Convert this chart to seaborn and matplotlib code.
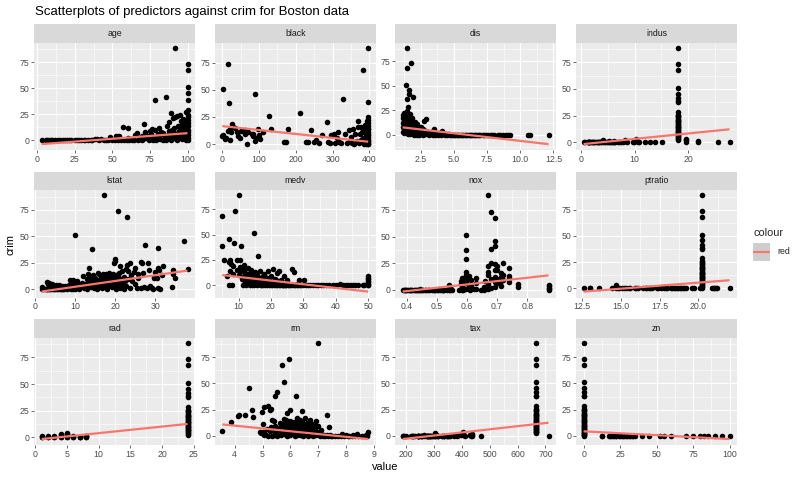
import numpy as np
import pandas as pd
import matplotlib
matplotlib.use("Agg")
import matplotlib.pyplot as plt
from matplotlib.ticker import AutoMinorLocator
import seaborn as sns

# ─── Data ─────────────────────────────────────────────────────────────────────
predictors = ["age", "black", "dis", "indus", "lstat", "medv",
              "nox", "ptratio", "rad", "rm", "tax", "zn"]

# fitted crim ~ value lines (intercept, slope)
intercepts = [-3.778, 16.554, 9.499, -2.064, -3.331, 11.797,
              -13.720, -17.647, -2.287, 20.482, -8.528, 4.454]
slopes = [0.1078, -0.03628, -1.5509, 0.5098, 0.5488, -0.3632,
          31.249, 1.1520, 0.6179, -2.684, 0.02974, -0.07393]

x_ticks = {
    "age": [0, 25, 50, 75, 100], "black": [0, 100, 200, 300, 400],
    "dis": [2.5, 5.0, 7.5, 10.0, 12.5], "indus": [0, 10, 20],
    "lstat": [0, 10, 20, 30], "medv": [10, 20, 30, 40, 50],
    "nox": [0.4, 0.5, 0.6, 0.7, 0.8], "ptratio": [12.5, 15.0, 17.5, 20.0],
    "rad": [0, 5, 10, 15, 20, 25], "rm": [4, 5, 6, 7, 8, 9],
    "tax": [200, 300, 400, 500, 600, 700], "zn": [0, 25, 50, 75, 100],
}
y_ticks = [0, 25, 50, 75]

# crim values of the high-crime towns (the vertical stacks)
high_crim = [2.38, 3.32, 4.22, 4.87, 5.69, 6.44, 7.02, 7.99, 8.72, 9.39, 9.92,
             10.83, 11.58, 12.05, 13.36, 14.05, 14.33, 15.02, 15.86, 16.81,
             18.08, 18.81, 19.61, 20.08, 20.72, 22.05, 23.65, 24.39, 25.05,
             25.94, 28.66, 37.66, 38.35, 41.53, 45.75, 51.14, 67.92, 73.53, 88.98]

age_pts = [(2.9, 0.0), (6.0, 0.0), (6.5, 0.1), (7.8, 0.0), (8.9, 0.1), (10.0, 0.0),
           (12.0, 0.1), (13.9, 0.0), (15.3, 0.1), (17.0, 0.0), (18.4, 0.1), (19.5, 0.0),
           (21.1, 0.1), (22.3, 0.0), (24.8, 0.1), (26.3, 0.0), (27.6, 0.2), (29.3, 0.1),
           (30.8, 0.0), (32.0, 0.2), (33.5, 0.1), (35.7, 0.1), (36.6, 0.3), (38.3, 1.6),
           (40.0, 1.5), (41.1, 0.2), (42.4, 1.3), (44.4, 0.2), (45.6, 0.1), (47.2, 0.4),
           (48.5, 3.1), (49.9, 0.3), (51.8, 0.2), (52.5, 3.8), (53.6, 0.5), (54.3, 4.2),
           (56.0, 0.4), (57.1, 12.8), (57.8, 0.6), (59.5, 0.3), (60.1, 11.8), (61.1, 0.6),
           (62.8, 1.1), (64.5, 0.5), (65.2, 5.2), (66.6, 6.8), (66.8, 0.8), (68.2, 1.2),
           (69.5, 3.9), (70.0, 0.4), (71.0, 15.9), (71.5, 8.0), (72.7, 2.2), (74.4, 0.7),
           (74.8, 9.1), (76.0, 1.1), (76.5, 11.2), (77.7, 3.2), (78.1, 38.4), (78.7, 9.9),
           (79.2, 0.5), (80.3, 6.4), (81.0, 12.0), (81.6, 1.8), (82.6, 8.2), (83.7, 0.4),
           (84.7, 4.3), (85.4, 41.5), (86.1, 13.5), (87.3, 2.4), (87.9, 18.1), (88.0, 9.5),
           (88.8, 0.9), (89.1, 25.9), (89.6, 5.7), (90.3, 21.1), (90.8, 2.0), (91.2, 12.2),
           (91.5, 22.6), (91.9, 88.98), (92.6, 6.4), (93.0, 23.6), (93.3, 0.6), (93.8, 14.3),
           (94.1, 9.3), (94.7, 24.8), (95.4, 3.3), (96.0, 18.5), (96.2, 1.2), (96.8, 20.1),
           (97.3, 7.9), (97.9, 15.0), (98.2, 4.4), (98.8, 11.0), (99.1, 0.9), (99.3, 27.0),
           (99.6, 13.4), (100.0, 0.1), (100.0, 2.4), (100.0, 5.0), (100.0, 8.0),
           (100.0, 10.5), (100.0, 14.0), (100.0, 17.0), (100.0, 20.0), (100.0, 22.0),
           (100.0, 24.0), (100.0, 29.0), (100.0, 38.4), (100.0, 45.7), (100.0, 51.1),
           (100.0, 67.9), (100.0, 73.5),
           (60.5, 2.5), (63.0, 0.2), (67.5, 2.8), (70.5, 1.6), (73.0, 4.6), (75.5, 5.9),
           (77.0, 0.3), (79.8, 2.9), (82.0, 4.8), (84.0, 7.1), (85.9, 0.6), (86.8, 5.4),
           (88.4, 3.6), (89.9, 9.8), (90.9, 7.3), (92.2, 3.9), (94.3, 5.5), (95.0, 11.8),
           (95.8, 7.0), (96.5, 14.7), (97.0, 2.4), (97.6, 10.4), (98.5, 7.7), (99.0, 18.1),
           (99.4, 3.6), (99.8, 6.4)]

black_pts = [(0.32, 7.0), (2.5, 51.1), (3.5, 8.5), (6.7, 6.0), (7.7, 5.0), (10.5, 5.5),
             (14.5, 73.5), (16.5, 12.0), (18.8, 37.7), (20.0, 3.6), (22.0, 14.3),
             (24.7, 11.0), (27.5, 18.5), (30.0, 16.0), (35.0, 15.0), (41.0, 11.2),
             (43.0, 7.5), (48.0, 5.2), (50.9, 12.0), (60.7, 9.7), (62.0, 13.0), (68.0, 0.4),
             (70.8, 11.5), (80.0, 9.7), (83.5, 7.0), (85.0, 8.8), (88.3, 45.7), (89.0, 2.7),
             (91.0, 5.8), (97.9, 14.3), (100.2, 8.2), (103.0, 5.0), (109.9, 11.2),
             (126.8, 25.9), (131.4, 14.3), (169.3, 2.1), (172.9, 2.1), (178.6, 14.3),
             (210.9, 28.6), (227.6, 1.5), (232.6, 1.5), (240.2, 12.8), (248.3, 2.1),
             (255.2, 3.6), (261.9, 1.0), (272.2, 8.2), (285.8, 20.3), (288.9, 1.5),
             (292.3, 0.5), (297.1, 8.2), (302.8, 9.7), (306.4, 1.0), (312.0, 5.2),
             (316.0, 11.2), (318.4, 2.0), (322.0, 0.5), (329.0, 41.5), (334.4, 9.7),
             (338.2, 0.8), (344.0, 12.8), (347.9, 3.0), (350.5, 6.7), (353.0, 1.0),
             (356.9, 14.3), (359.3, 0.4), (362.3, 9.7), (366.2, 3.0), (368.2, 15.8),
             (370.2, 21.3), (372.1, 0.6), (374.7, 8.8), (376.7, 15.8), (377.7, 4.0),
             (379.4, 11.0), (381.2, 1.5), (382.8, 67.9), (383.4, 5.2), (384.5, 13.0),
             (385.4, 0.3), (386.9, 18.0), (388.5, 12.8), (389.6, 7.0), (390.5, 2.1),
             (391.2, 0.2), (392.1, 10.0), (393.1, 16.0), (393.7, 4.5), (394.1, 21.0),
             (394.7, 0.8), (395.2, 8.0), (395.6, 13.5), (395.9, 2.5), (396.2, 24.9),
             (396.4, 0.1), (396.9, 88.98), (396.9, 38.4), (396.9, 22.0), (396.9, 19.0),
             (396.9, 16.5), (396.9, 14.0), (396.9, 11.5), (396.9, 9.0), (396.9, 6.5),
             (396.9, 4.5), (396.9, 2.8), (396.9, 1.2), (396.9, 0.0)]

dis_pts = [(1.13, 8.0), (1.13, 3.5), (1.14, 17.0), (1.17, 12.0), (1.17, 20.0), (1.2, 6.0),
           (1.21, 14.5), (1.22, 22.0), (1.25, 9.0), (1.26, 2.0), (1.29, 11.0), (1.32, 16.0),
           (1.35, 4.5), (1.36, 19.0), (1.39, 51.1), (1.42, 7.5), (1.44, 88.98), (1.44, 67.9),
           (1.45, 13.0), (1.47, 37.0), (1.49, 24.0), (1.5, 10.5), (1.52, 1.0), (1.55, 18.0),
           (1.56, 28.5), (1.58, 6.5), (1.61, 41.5), (1.62, 45.7), (1.63, 14.0), (1.65, 3.0),
           (1.68, 21.5), (1.7, 9.5), (1.72, 0.6), (1.75, 15.0), (1.78, 5.0), (1.8, 73.5),
           (1.82, 11.0), (1.85, 17.0), (1.88, 2.0), (1.89, 38.4), (1.92, 8.0), (1.95, 12.5),
           (1.98, 0.3), (2.0, 6.0), (2.04, 9.5), (2.08, 1.5), (2.1, 13.0), (2.14, 4.5),
           (2.17, 8.0), (2.2, 0.2), (2.25, 11.0), (2.3, 3.0), (2.35, 7.0), (2.4, 0.4),
           (2.45, 5.0), (2.5, 1.0), (2.55, 8.5), (2.6, 2.5), (2.65, 0.3), (2.7, 6.0),
           (2.76, 14.3), (2.8, 1.5), (2.88, 16.0), (2.9, 4.0), (2.95, 0.5), (3.0, 2.5),
           (3.1, 0.2), (3.2, 1.0), (3.3, 3.0), (3.4, 0.4), (3.47, 5.6), (3.5, 1.5),
           (3.6, 0.2), (3.7, 0.9), (3.8, 0.1), (3.9, 2.0), (4.0, 0.3), (4.1, 3.8), (4.2, 0.5),
           (4.3, 0.1), (4.4, 1.2), (4.5, 0.2), (4.6, 0.6), (4.7, 0.1), (4.8, 0.3), (4.9, 0.1),
           (5.0, 0.4), (5.1, 0.1), (5.2, 0.2), (5.3, 0.1), (5.4, 0.3), (5.5, 0.1), (5.6, 0.1),
           (5.7, 0.2), (5.8, 0.1), (5.9, 0.1), (6.0, 0.1), (6.1, 0.2), (6.2, 0.0), (6.3, 0.1),
           (6.4, 0.1), (6.5, 0.0), (6.6, 0.1), (6.7, 0.1), (6.8, 0.0), (6.9, 0.1), (7.0, 0.0),
           (7.2, 0.1), (7.3, 0.0), (7.4, 0.1), (7.6, 0.0), (7.8, 0.1), (7.9, 0.0), (8.0, 0.1),
           (8.3, 0.0), (8.5, 0.1), (8.7, 0.0), (8.9, 0.1), (9.1, 0.0), (9.22, 0.1),
           (10.59, 0.0), (10.71, 0.1), (12.13, 0.0)]

indus_pts = [(0.46, 0.0), (0.74, 0.1), (1.21, 0.0), (1.25, 0.1), (1.32, 0.0), (1.38, 0.1),
             (1.47, 0.1), (1.52, 0.0), (1.69, 0.1), (1.89, 0.0), (2.01, 0.1), (2.18, 0.1),
             (2.24, 0.0), (2.46, 0.1), (2.68, 0.1), (2.89, 0.1), (2.95, 0.0), (3.24, 0.1),
             (3.33, 0.1), (3.41, 0.1), (3.64, 0.0), (3.75, 0.1), (3.97, 1.0), (4.05, 0.2),
             (4.1, 1.6), (4.39, 0.1), (4.49, 0.1), (4.86, 0.1), (4.95, 0.2), (5.13, 0.1),
             (5.19, 1.1), (5.32, 0.1), (5.64, 0.1), (5.86, 0.2), (5.96, 0.1), (6.07, 0.1),
             (6.2, 0.3), (6.2, 0.7), (6.41, 0.2), (6.91, 0.2), (7.07, 0.0), (7.38, 0.3),
             (7.87, 0.1), (8.14, 0.6), (8.14, 1.2), (8.14, 2.2), (8.56, 0.1), (9.69, 0.2),
             (9.9, 0.5), (9.9, 1.3), (10.01, 0.8), (10.2, 3.1), (10.59, 0.5), (10.81, 0.1),
             (11.93, 0.1), (12.83, 0.1), (13.89, 0.1), (15.04, 0.1), (19.58, 0.5),
             (19.58, 1.8), (19.58, 3.3), (21.89, 0.2), (21.89, 1.5), (25.65, 0.2),
             (27.74, 0.1)] + [(18.1, c) for c in high_crim]

lstat_pts = [(1.73, 0.1), (1.92, 1.5), (1.98, 0.0), (2.47, 0.1), (2.87, 0.1), (2.96, 0.0),
             (3.01, 6.6), (3.11, 0.3), (3.26, 0.0), (3.33, 4.5), (3.53, 0.1), (3.59, 5.4),
             (3.76, 1.0), (3.92, 0.2), (4.16, 0.3), (4.21, 4.8), (4.45, 0.1), (4.59, 1.6),
             (4.85, 0.3), (5.04, 0.1), (5.21, 3.4), (5.5, 0.2), (5.81, 0.1), (5.98, 2.3),
             (6.27, 0.1), (6.43, 0.5), (6.72, 0.1), (6.86, 3.3), (7.14, 0.1), (7.39, 0.5),
             (7.79, 1.3), (8.05, 0.4), (8.43, 4.1), (8.6, 0.6), (8.88, 8.3), (9.04, 0.3),
             (9.25, 0.9), (9.42, 8.8), (9.59, 0.1), (9.69, 2.7), (9.93, 0.1), (10.11, 51.1),
             (10.15, 1.2), (10.4, 5.8), (10.63, 2.0), (10.87, 4.1), (11.1, 0.4), (11.38, 3.2),
             (11.69, 6.0), (12.03, 12.0), (12.14, 0.7), (12.34, 2.4), (12.6, 5.0),
             (12.92, 1.8), (13.0, 9.5), (13.11, 0.3), (13.27, 14.1), (13.44, 19.6),
             (13.65, 7.2), (13.99, 11.0), (14.1, 2.4), (14.19, 37.7), (14.33, 4.9),
             (14.59, 13.0), (14.69, 8.1), (14.8, 1.0), (14.98, 10.1), (15.12, 3.0),
             (15.37, 0.2), (15.55, 6.3), (15.7, 15.1), (15.94, 9.0), (16.14, 3.8),
             (16.3, 13.2), (16.51, 7.7), (16.65, 1.2), (16.9, 11.5), (17.0, 4.6),
             (17.1, 14.4), (17.21, 88.98), (17.44, 9.1), (17.6, 2.4), (17.8, 14.7),
             (17.93, 6.0), (18.06, 0.1), (18.13, 12.0), (18.33, 3.1), (18.46, 15.6),
             (18.68, 8.2), (19.01, 11.6), (19.15, 1.9), (19.37, 4.9), (19.52, 14.0),
             (19.69, 24.5), (19.77, 8.5), (19.92, 26.4), (20.08, 28.8), (20.23, 0.1),
             (20.31, 13.4), (20.45, 5.3), (20.62, 73.5), (20.85, 10.3), (21.02, 15.3),
             (21.14, 1.3), (21.32, 22.1), (21.45, 7.0), (21.78, 17.0), (22.11, 11.2),
             (22.2, 0.3), (22.6, 18.8), (22.74, 3.0), (22.88, 67.9), (22.98, 22.6),
             (23.09, 9.8), (23.27, 16.9), (23.6, 24.2), (23.79, 0.9), (23.98, 13.6),
             (24.1, 7.3), (24.56, 15.8), (24.9, 20.4), (24.91, 5.0), (25.41, 0.9),
             (25.68, 10.7), (25.79, 14.0), (26.4, 25.9), (26.5, 0.6), (26.64, 24.8),
             (26.82, 15.3), (27.26, 2.4), (27.38, 41.5), (27.8, 1.3), (28.28, 24.4),
             (28.32, 18.5), (28.65, 3.0), (29.05, 1.4), (29.29, 0.3), (29.53, 11.6),
             (29.68, 10.0), (29.97, 16.6), (30.4, 10.5), (30.59, 38.4), (30.62, 20.2),
             (30.63, 0.6), (30.81, 18.1), (31.1, 0.2), (31.72, 13.2), (31.99, 22.1),
             (34.02, 1.9), (34.37, 18.0), (34.41, 14.4), (34.77, 10.9), (36.98, 45.7),
             (37.97, 18.8),
             (5.3, 1.4), (6.1, 3.9), (7.5, 2.6), (8.3, 1.6), (9.0, 5.2), (9.8, 3.6),
             (10.5, 7.7), (11.0, 1.9), (11.8, 4.6), (12.5, 3.7), (13.3, 5.6), (13.8, 2.6),
             (14.4, 6.3), (15.3, 4.5), (16.0, 5.7), (16.8, 2.9), (17.5, 6.8), (18.2, 4.1),
             (18.9, 5.9), (19.6, 2.8), (20.0, 9.6), (20.7, 3.6), (21.6, 4.4), (22.4, 7.9)]

medv_pts = [(5.0, 38.4), (5.0, 67.9), (5.6, 25.0), (6.3, 9.3), (7.0, 0.1), (7.0, 22.6),
            (7.2, 45.7), (7.4, 14.0), (7.5, 24.4), (7.7, 20.7), (8.1, 0.2), (8.3, 18.8),
            (8.4, 11.1), (8.5, 41.5), (8.8, 73.5), (9.5, 15.2), (9.6, 25.0), (10.2, 88.98),
            (10.4, 18.1), (10.5, 24.8), (10.8, 38.4), (10.9, 13.5), (11.0, 5.6), (11.3, 14.3),
            (11.5, 0.2), (11.7, 9.2), (11.8, 20.1), (12.0, 3.5), (12.1, 15.5), (12.3, 0.5),
            (12.5, 7.4), (12.7, 11.2), (13.0, 17.2), (13.1, 1.1), (13.3, 4.8), (13.4, 12.2),
            (13.6, 0.1), (13.8, 8.6), (13.9, 15.0), (14.1, 0.4), (14.3, 10.4), (14.5, 6.7),
            (14.7, 0.3), (14.9, 51.1), (15.0, 12.8), (15.2, 1.9), (15.4, 4.1), (15.6, 9.9),
            (15.8, 0.2), (16.0, 28.8), (16.1, 3.0), (16.3, 1.1), (16.5, 14.3), (16.8, 0.5),
            (17.0, 0.1), (17.1, 8.1), (17.4, 5.4), (17.6, 0.6), (17.8, 11.4), (18.1, 0.2),
            (18.4, 2.5), (18.7, 7.1), (18.9, 0.1), (19.1, 13.5), (19.3, 1.5), (19.4, 0.3),
            (19.6, 4.6), (19.9, 9.0), (20.1, 0.6), (20.3, 0.2), (20.5, 15.9), (20.8, 1.3),
            (21.0, 0.3), (21.2, 6.2), (21.4, 2.4), (21.6, 0.1), (21.9, 11.6), (22.0, 0.3),
            (22.2, 2.9), (22.5, 14.3), (22.6, 0.1), (22.8, 0.2), (23.1, 5.3), (23.3, 0.6),
            (23.6, 0.4), (23.8, 0.1), (24.0, 8.6), (24.2, 0.3), (24.4, 0.1), (24.6, 0.2),
            (24.8, 1.5), (25.0, 4.8), (25.3, 0.1), (25.5, 0.3), (26.0, 0.6), (26.4, 0.1),
            (26.6, 16.0), (27.0, 13.3), (27.1, 0.3), (27.5, 0.2), (27.9, 1.0), (28.0, 0.2),
            (28.4, 0.1), (28.7, 5.0), (29.1, 0.4), (29.4, 0.2), (29.8, 0.1), (30.1, 4.9),
            (30.8, 0.3), (31.5, 0.1), (32.2, 0.5), (33.0, 0.1), (33.8, 0.2), (34.6, 0.1),
            (35.4, 0.0), (36.2, 0.3), (37.0, 0.1), (38.0, 0.0), (39.0, 0.2), (40.0, 0.1),
            (41.3, 0.7), (42.3, 0.1), (43.1, 0.3), (43.8, 0.1), (44.8, 0.1), (45.4, 0.0),
            (46.0, 0.4), (46.7, 0.1), (48.3, 0.1), (48.8, 0.2), (50.0, 0.0), (50.0, 0.6),
            (50.0, 1.5), (50.0, 2.7), (50.0, 4.0), (50.0, 5.7), (50.0, 7.4), (50.0, 9.2),
            (10.0, 10.2), (11.9, 6.9), (12.8, 2.5), (13.5, 9.8), (14.0, 4.0), (14.6, 12.0),
            (15.1, 7.6), (16.2, 6.5), (17.2, 2.7), (18.0, 9.7), (18.5, 4.3), (19.5, 7.2),
            (20.0, 3.3), (21.7, 5.1), (23.0, 2.2), (24.5, 3.4)]

nox_pts = [(0.385, 0.0), (0.389, 0.0), (0.392, 0.1), (0.394, 0.0), (0.398, 0.0), (0.4, 0.1),
           (0.404, 0.1), (0.409, 0.0), (0.411, 0.1), (0.413, 0.0), (0.416, 0.1), (0.422, 0.1),
           (0.426, 0.0), (0.429, 0.0), (0.433, 0.1), (0.437, 0.0), (0.439, 0.1), (0.442, 0.0),
           (0.443, 0.3), (0.447, 0.1), (0.449, 0.0), (0.453, 0.1), (0.458, 0.1), (0.464, 0.1),
           (0.47, 0.0), (0.472, 0.0), (0.484, 0.1), (0.488, 0.0), (0.489, 0.2), (0.493, 0.1),
           (0.499, 0.1), (0.504, 0.2), (0.507, 0.7), (0.51, 0.2), (0.515, 0.0), (0.518, 0.1),
           (0.52, 0.2), (0.524, 0.1), (0.532, 0.1), (0.538, 0.6), (0.538, 1.2), (0.538, 4.2),
           (0.538, 0.2), (0.544, 0.1), (0.547, 0.3), (0.55, 0.1), (0.573, 0.1), (0.581, 0.8),
           (0.583, 0.1), (0.585, 0.2), (0.585, 2.0), (0.581, 8.0), (0.584, 11.0), (0.58, 5.0),
           (0.597, 51.1), (0.597, 37.7), (0.597, 28.8), (0.597, 17.0), (0.597, 14.0),
           (0.597, 9.5), (0.597, 6.0), (0.597, 0.5), (0.605, 1.0), (0.605, 4.5),
           (0.605, 12.5), (0.609, 0.2), (0.614, 9.0), (0.614, 4.0), (0.624, 0.5),
           (0.631, 0.3), (0.631, 6.5), (0.631, 11.0), (0.647, 0.2), (0.655, 0.1),
           (0.655, 2.5), (0.659, 8.5), (0.668, 17.0), (0.668, 0.8), (0.671, 88.98),
           (0.671, 22.0), (0.671, 14.0), (0.671, 5.0), (0.679, 73.5), (0.679, 38.4),
           (0.679, 25.0), (0.679, 10.0), (0.679, 2.0), (0.693, 67.9), (0.693, 45.7),
           (0.693, 41.5), (0.693, 24.0), (0.693, 19.0), (0.693, 12.0), (0.693, 7.0),
           (0.693, 3.0), (0.7, 18.5), (0.7, 10.0), (0.7, 22.0), (0.7, 6.0), (0.713, 8.0),
           (0.713, 12.0), (0.713, 15.5), (0.713, 4.0), (0.718, 9.0), (0.718, 25.0),
           (0.718, 14.0), (0.74, 11.0), (0.74, 20.0), (0.74, 7.0), (0.74, 13.0),
           (0.77, 5.4), (0.77, 3.0), (0.871, 0.1), (0.871, 1.0), (0.871, 2.0),
           (0.871, 3.5), (0.871, 4.3)]

ptratio_pts = [(12.6, 0.0), (13.0, 0.1), (13.0, 0.3), (13.6, 0.0), (14.4, 0.1), (14.7, 0.1),
               (14.7, 3.3), (14.7, 1.5), (14.8, 0.5), (14.9, 0.1), (15.1, 0.1), (15.2, 0.4),
               (15.3, 0.1), (15.5, 0.0), (15.6, 0.1), (15.9, 0.1), (16.0, 0.2), (16.1, 0.1),
               (16.4, 0.1), (16.6, 0.1), (16.6, 0.5), (16.8, 0.1), (16.9, 0.2), (17.0, 0.1),
               (17.3, 0.1), (17.4, 0.2), (17.6, 0.3), (17.8, 0.1), (17.8, 0.8), (17.9, 0.2),
               (18.0, 0.1), (18.2, 0.1), (18.3, 0.5), (18.4, 0.2), (18.5, 0.3), (18.6, 0.1),
               (18.7, 0.7), (18.8, 0.3), (18.9, 0.2), (19.0, 0.1), (19.1, 0.3), (19.2, 0.4),
               (19.6, 0.4), (19.7, 0.1), (20.1, 0.1), (20.2, 0.2), (20.2, 1.1), (20.9, 0.3),
               (21.0, 0.6), (21.0, 0.1), (21.1, 0.2), (21.2, 0.5),
               (22.0, 0.1)] + [(20.2, c) for c in high_crim]

rad_pts = [(1, 0.0), (1, 0.2), (1, 1.0), (2, 0.0), (2, 0.3), (2, 0.9), (3, 0.0), (3, 0.4),
           (3, 0.8), (4, 0.0), (4, 0.5), (4, 1.5), (4, 2.5), (4, 3.0), (5, 0.0), (5, 0.6),
           (5, 1.6), (5, 2.6), (5, 3.5), (5, 4.2), (6, 0.0), (6, 0.3), (6, 0.8), (7, 0.0),
           (7, 0.5), (7, 0.7), (8, 0.0), (8, 0.5), (8, 1.0),
           (8, 1.2)] + [(24, c) for c in high_crim]

rm_pts = [(3.56, 4.2), (3.86, 13.5), (4.13, 18.5), (4.14, 20.1), (4.37, 19.6), (4.52, 45.7),
          (4.63, 24.4), (4.65, 18.1), (4.9, 4.0), (4.95, 2.5), (4.97, 22.6), (5.0, 3.2),
          (5.0, 11.3), (5.04, 27.3), (5.05, 0.5), (5.1, 1.5), (5.15, 7.0), (5.19, 28.6),
          (5.2, 0.1), (5.25, 4.5), (5.28, 25.1), (5.3, 8.0), (5.3, 25.9), (5.34, 0.3),
          (5.35, 15.0), (5.4, 5.5), (5.4, 14.0), (5.42, 1.0), (5.45, 38.4), (5.45, 9.5),
          (5.5, 41.5), (5.5, 0.2), (5.55, 3.0), (5.6, 7.5), (5.62, 12.0), (5.65, 0.5),
          (5.69, 67.9), (5.7, 4.0), (5.72, 9.0), (5.75, 16.5), (5.76, 51.1), (5.78, 1.5),
          (5.8, 6.5), (5.83, 11.5), (5.85, 15.0), (5.87, 22.1), (5.88, 0.2), (5.9, 3.5),
          (5.93, 8.5), (5.96, 73.5), (5.97, 14.0), (6.0, 0.5), (6.0, 24.8), (6.02, 5.5),
          (6.05, 10.0), (6.08, 2.0), (6.1, 7.0), (6.12, 13.0), (6.15, 0.3), (6.18, 4.0),
          (6.19, 37.7), (6.2, 9.0), (6.22, 17.0), (6.25, 1.0), (6.28, 6.0), (6.3, 11.0),
          (6.33, 15.0), (6.35, 0.4), (6.38, 3.0), (6.4, 8.0), (6.4, 23.6), (6.42, 13.5),
          (6.45, 0.2), (6.48, 5.0), (6.5, 10.0), (6.52, 17.0), (6.55, 1.5), (6.58, 6.5),
          (6.6, 12.0), (6.62, 0.3), (6.65, 3.5), (6.68, 9.0), (6.7, 15.5), (6.72, 0.8),
          (6.75, 5.5), (6.78, 11.0), (6.8, 0.2), (6.83, 2.5), (6.87, 7.5), (6.9, 14.0),
          (6.93, 0.5), (6.97, 4.0), (6.97, 88.98), (7.0, 9.0), (7.05, 0.3), (7.1, 6.0),
          (7.1, 2.0), (7.15, 0.1), (7.2, 1.0), (7.25, 0.2), (7.3, 0.5), (7.31, 19.6),
          (7.35, 0.1), (7.39, 8.2), (7.4, 0.6), (7.45, 0.2), (7.5, 0.1), (7.6, 0.3),
          (7.7, 0.1), (7.8, 0.2), (7.85, 1.5), (7.9, 0.1), (8.0, 0.4), (8.05, 0.2),
          (8.1, 0.1), (8.2, 0.3), (8.25, 1.2), (8.3, 0.1), (8.38, 1.5), (8.4, 0.3),
          (8.55, 0.1), (8.7, 0.6), (8.73, 0.1), (8.75, 1.2), (8.78, 3.5),
          (5.5, 5.0), (5.6, 2.0), (5.7, 11.0), (5.8, 3.5), (5.9, 6.0), (6.0, 12.5),
          (6.1, 3.5), (6.2, 5.5), (6.25, 13.0), (6.35, 7.0), (6.45, 4.0), (6.55, 9.0),
          (6.6, 2.5), (6.7, 7.0), (6.8, 4.5), (6.85, 10.0), (5.95, 1.0), (6.15, 8.0),
          (6.3, 2.0), (6.5, 6.5)]

tax_pts = [(187, 0.0), (188, 0.1), (193, 0.0), (198, 0.1), (216, 0.0), (222, 0.1), (224, 0.1),
           (226, 0.0), (233, 0.1), (241, 0.0), (242, 0.1), (243, 0.0), (244, 0.1), (245, 0.0),
           (247, 0.1), (252, 0.0), (254, 0.1), (255, 0.1), (256, 0.0), (264, 0.1), (265, 0.8),
           (270, 0.1), (273, 0.1), (276, 0.2), (277, 0.1), (279, 0.1), (280, 0.0), (281, 0.1),
           (284, 0.1), (285, 0.0), (287, 0.1), (289, 0.1), (293, 0.1), (296, 0.2), (300, 0.1),
           (304, 0.2), (304, 2.5), (305, 0.1), (307, 1.2), (307, 0.5), (311, 0.2), (313, 0.1),
           (315, 0.1), (329, 0.2), (330, 0.1), (334, 0.1), (335, 0.1), (337, 0.1), (345, 0.1),
           (348, 0.1), (351, 0.0), (352, 0.1), (358, 0.1), (370, 0.1), (384, 0.3), (391, 0.6),
           (398, 0.5), (398, 1.5), (403, 2.5), (403, 3.7), (403, 1.0), (411, 0.2), (430, 0.5),
           (430, 1.2), (432, 0.3), (437, 0.8), (437, 0.2), (437, 1.6), (469, 0.1),
           (711, 0.2)] + [(666, c) for c in high_crim]

zn_pts = [(12.5, 0.1), (12.5, 0.2), (17.5, 0.0), (18, 0.0), (19, 0.1), (20, 0.1), (21, 0.1),
          (22, 0.0), (22, 0.1), (24, 0.1), (25, 0.0), (26, 0.0), (27, 0.1), (28, 0.1),
          (29, 0.0), (30, 0.0), (31, 0.0), (32, 0.1), (33, 0.0), (34, 0.0), (35, 0.0),
          (40, 0.0), (45, 0.0), (52.5, 0.0), (55, 0.0), (60, 0.0), (70, 0.0), (75, 0.0),
          (80, 0.0), (82.5, 0.0), (85, 0.0), (90, 0.0), (95, 0.0), (100, 0.0),
          (0, 0.0), (0, 0.5), (0, 1.0), (0, 1.6)] + [(0, c) for c in high_crim]

panel_pts = [age_pts, black_pts, dis_pts, indus_pts, lstat_pts, medv_pts,
             nox_pts, ptratio_pts, rad_pts, rm_pts, tax_pts, zn_pts]

# ─── Style ────────────────────────────────────────────────────────────────────
sns.set_theme(style="darkgrid", rc={
    "axes.facecolor": "#EBEBEB", "grid.color": "white",
    "axes.edgecolor": "#EBEBEB", "figure.facecolor": "white",
})
plt.rcParams["font.family"] = ["Liberation Sans", "DejaVu Sans"]

W, H = 800, 480
COL_X = [34.3, 215.0, 395.3, 576.3]
ROW_Y = [24.0, 171.5, 319.0]   # top of each strip (px)
PW, SH, PH = 160.5, 18.7, 107.3

fig = plt.figure(figsize=(W / 100, H / 100), dpi=100)

for i, name in enumerate(predictors):
    r, c = divmod(i, 4)
    x0, top = COL_X[c], ROW_Y[r]
    ax = fig.add_axes([x0 / W, 1 - (top + SH + PH) / H, PW / W, PH / H])
    sax = fig.add_axes([x0 / W, 1 - (top + SH) / H, PW / W, SH / H])
    sax.set_facecolor("#D9D9D9")
    sax.set_xticks([])
    sax.set_yticks([])
    sax.grid(False)
    for sp in sax.spines.values():
        sp.set_visible(False)
    sax.text(0.5, 0.5, name, ha="center", va="center", fontsize=6.3, color="#1A1A1A")

    df = pd.DataFrame(panel_pts[i], columns=["value", "crim"])
    xs = np.array([df["value"].min(), df["value"].max()])
    ys = intercepts[i] + slopes[i] * xs
    sns.scatterplot(data=df, x="value", y="crim", ax=ax, s=16, color="black",
                    linewidth=0, legend=False, zorder=3)
    ax.plot(xs, ys, color="#F8766D", lw=1.6, zorder=4, solid_capstyle="butt")

    xr = xs[1] - xs[0]
    ax.set_xlim(xs[0] - 0.05 * xr, xs[1] + 0.05 * xr)
    lo = min(df["crim"].min(), ys.min()) - 1.0
    hi = max(df["crim"].max(), ys.max())
    ax.set_ylim(lo - 0.05 * (hi - lo), hi + 0.05 * (hi - lo))

    ticks = x_ticks[name]
    dec = 1 if any(t != int(t) for t in ticks) else 0
    ax.set_xticks(ticks)
    ax.set_xticklabels([f"{t:.{dec}f}" for t in ticks])
    ax.set_yticks(y_ticks)
    ax.set_yticklabels([str(t) for t in y_ticks])
    ax.xaxis.set_minor_locator(AutoMinorLocator(2))
    ax.yaxis.set_minor_locator(AutoMinorLocator(2))
    ax.grid(which="major", color="white", lw=0.8)
    ax.grid(which="minor", color="white", lw=0.4)
    ax.tick_params(which="major", length=2, width=0.5, color="#333333", pad=1.5,
                   labelsize=6.3, labelcolor="#4D4D4D", bottom=True, left=True)
    ax.tick_params(which="minor", length=0)
    ax.set_xlabel("")
    ax.set_ylabel("")
    for sp in ax.spines.values():
        sp.set_visible(False)

fig.text(35 / W, 1 - 15 / H, "Scatterplots of predictors against crim for Boston data",
         fontsize=9.5, color="black", va="baseline")
fig.text(10 / W, 1 - 245 / H, "crim", rotation=90, ha="center", va="center",
         fontsize=7.9, color="black")
fig.text(385 / W, 1 - 467 / H, "value", ha="center", va="center", fontsize=7.9,
         color="black")

# legend
fig.text(753 / W, 1 - 233 / H, "colour", ha="left", va="center", fontsize=7.9)
kax = fig.add_axes([753 / W, 1 - 260.5 / H, 17.3 / W, 17.3 / H])
kax.set_facecolor("#CECECE")
kax.grid(False)
kax.set_xticks([])
kax.set_yticks([])
for sp in kax.spines.values():
    sp.set_visible(False)
kax.plot([0.05, 0.95], [0.5, 0.5], color="#F8766D", lw=1.6)
kax.set_xlim(0, 1)
kax.set_ylim(0, 1)
fig.text(777 / W, 1 - 252 / H, "red", ha="left", va="center", fontsize=6.3)

fig.savefig("out.png", dpi=100)
